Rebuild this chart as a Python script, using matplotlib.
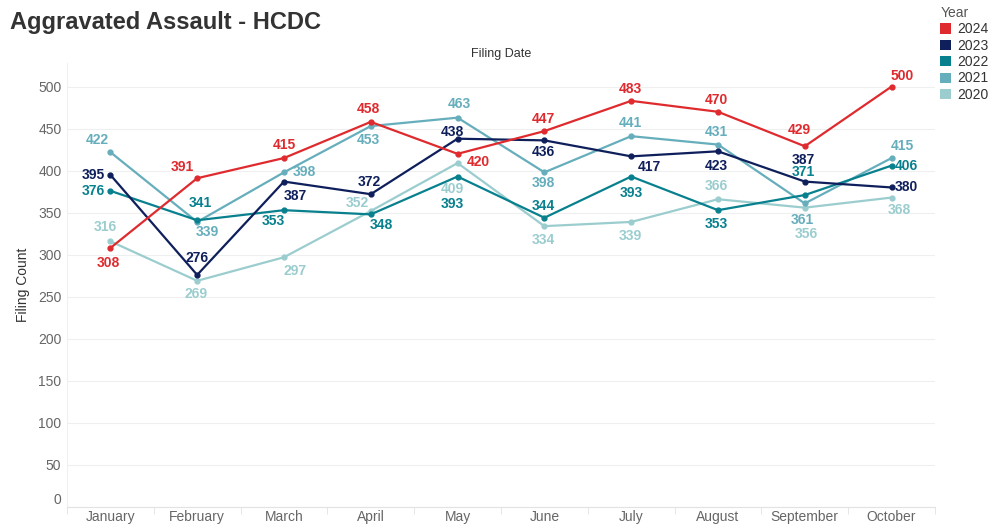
import matplotlib
matplotlib.use("Agg")
import matplotlib.pyplot as plt
from matplotlib.patches import Patch
import numpy as np

plt.rcParams['font.family'] = ['Liberation Sans', 'DejaVu Sans']

months = ['January', 'February', 'March', 'April', 'May', 'June',
          'July', 'August', 'September', 'October']
years = ['2024', '2023', '2022', '2021', '2020']

v2024 = [308, 391, 415, 458, 420, 447, 483, 470, 429, 500]
v2023 = [395, 276, 387, 372, 438, 436, 417, 423, 387, 380]
v2022 = [376, 341, 353, 348, 393, 344, 393, 353, 371, 406]
v2021 = [422, 339, 398, 453, 463, 398, 441, 431, 361, 415]
v2020 = [316, 269, 297, 352, 409, 334, 339, 366, 356, 368]

values = {'2024': v2024, '2023': v2023, '2022': v2022, '2021': v2021, '2020': v2020}
colors = {'2024': '#DF2A2E', '2023': '#0E1F5B', '2022': '#08808E',
          '2021': '#66AEBC', '2020': '#9BCDCF'}

# label offsets (pixels, x right / y up) so the numbers don't collide
offsets = {
    '2024': [(-2, -15), (-15, 11), (0, 13), (-2, 13), (21, -8), (-1, 12), (-1, 12), (-2, 12), (-5, 16), (11, 11)],
    '2023': [(-17, 0), (0, 17), (11, -14), (-2, 12), (-5, 7), (-1, -12), (18, -11), (-2, -15), (-1, 22), (15, 0)],
    '2022': [(-17, 0), (3, 17), (-11, -11), (11, -11), (-5, -27), (-1, 12), (0, -16), (-2, -14), (-1, 23), (15, 0)],
    '2021': [(-13, 12), (10, -10), (20, 0), (-2, -14), (2, 14), (-1, -11), (-1, 13), (-2, 13), (-2, -17), (11, 12)],
    '2020': [(-5, 14), (-1, -13), (11, -14), (-14, 8), (-5, -26), (-1, -14), (-1, -14), (-2, 13), (2, -26), (8, -12)],
}

fig = plt.figure(figsize=(9.89, 5.26), dpi=100)
ax = fig.add_axes([0.0677, 0.0361, 0.8777, 0.8441])

x = np.arange(len(months))
for yr in ['2020', '2021', '2022', '2023', '2024']:
    c = colors[yr]
    ax.plot(x, values[yr], color=c, lw=1.6, marker='o', ms=3.5, zorder=3)
    for i, v in enumerate(values[yr]):
        dx, dy = offsets[yr][i]
        ax.annotate(str(v), (i, v), xytext=(dx, dy), textcoords='offset pixels',
                    ha='center', va='center', fontsize=10, fontweight='bold',
                    color=c, zorder=4)

ax.set_xlim(-0.5, len(months) - 0.5)
ax.set_ylim(0, 528)
ax.set_yticks(range(0, 501, 50))
ax.set_xticks(x)
ax.set_xticklabels(months)
ax.set_xticks(np.arange(-0.5, len(months), 1), minor=True)
ax.grid(axis='y', color='#EFEFEF', lw=0.8)
ax.set_axisbelow(True)
for s in ['top', 'right']:
    ax.spines[s].set_visible(False)
ax.spines['left'].set_color('#F0F0F0')
ax.spines['bottom'].set_color('#E2E2E2')
ax.tick_params(axis='both', which='major', length=0, labelsize=10, labelcolor='#666666')
ax.tick_params(axis='y', pad=4)
ax.tick_params(axis='x', pad=2.5)
ax.tick_params(axis='x', which='minor', length=5, color='#E2E2E2')
ax.get_yticklabels()[0].set_verticalalignment('bottom')

ax.set_ylabel('Filing Count', fontsize=10, color='#333333', labelpad=6)
ax.set_title('Filing Date', fontsize=9, color='#333333', pad=4)

fig.text(0.010, 0.958, 'Aggravated Assault - HCDC', fontsize=17, fontweight='bold',
         color='#333333', va='center', ha='left')

handles = [Patch(facecolor=colors[yr], edgecolor='none') for yr in years]
leg = fig.legend(handles, years, title='Year', loc='upper left',
                 bbox_to_anchor=(0.941, 1.007), frameon=False, fontsize=10,
                 title_fontsize=10, handlelength=0.75, handleheight=0.75,
                 handletextpad=0.45, labelspacing=0.17, borderpad=0.2,
                 alignment='left')
for t in leg.get_texts():
    t.set_color('#333333')
leg.get_title().set_color('#555555')

fig.savefig('out.png', dpi=100)
